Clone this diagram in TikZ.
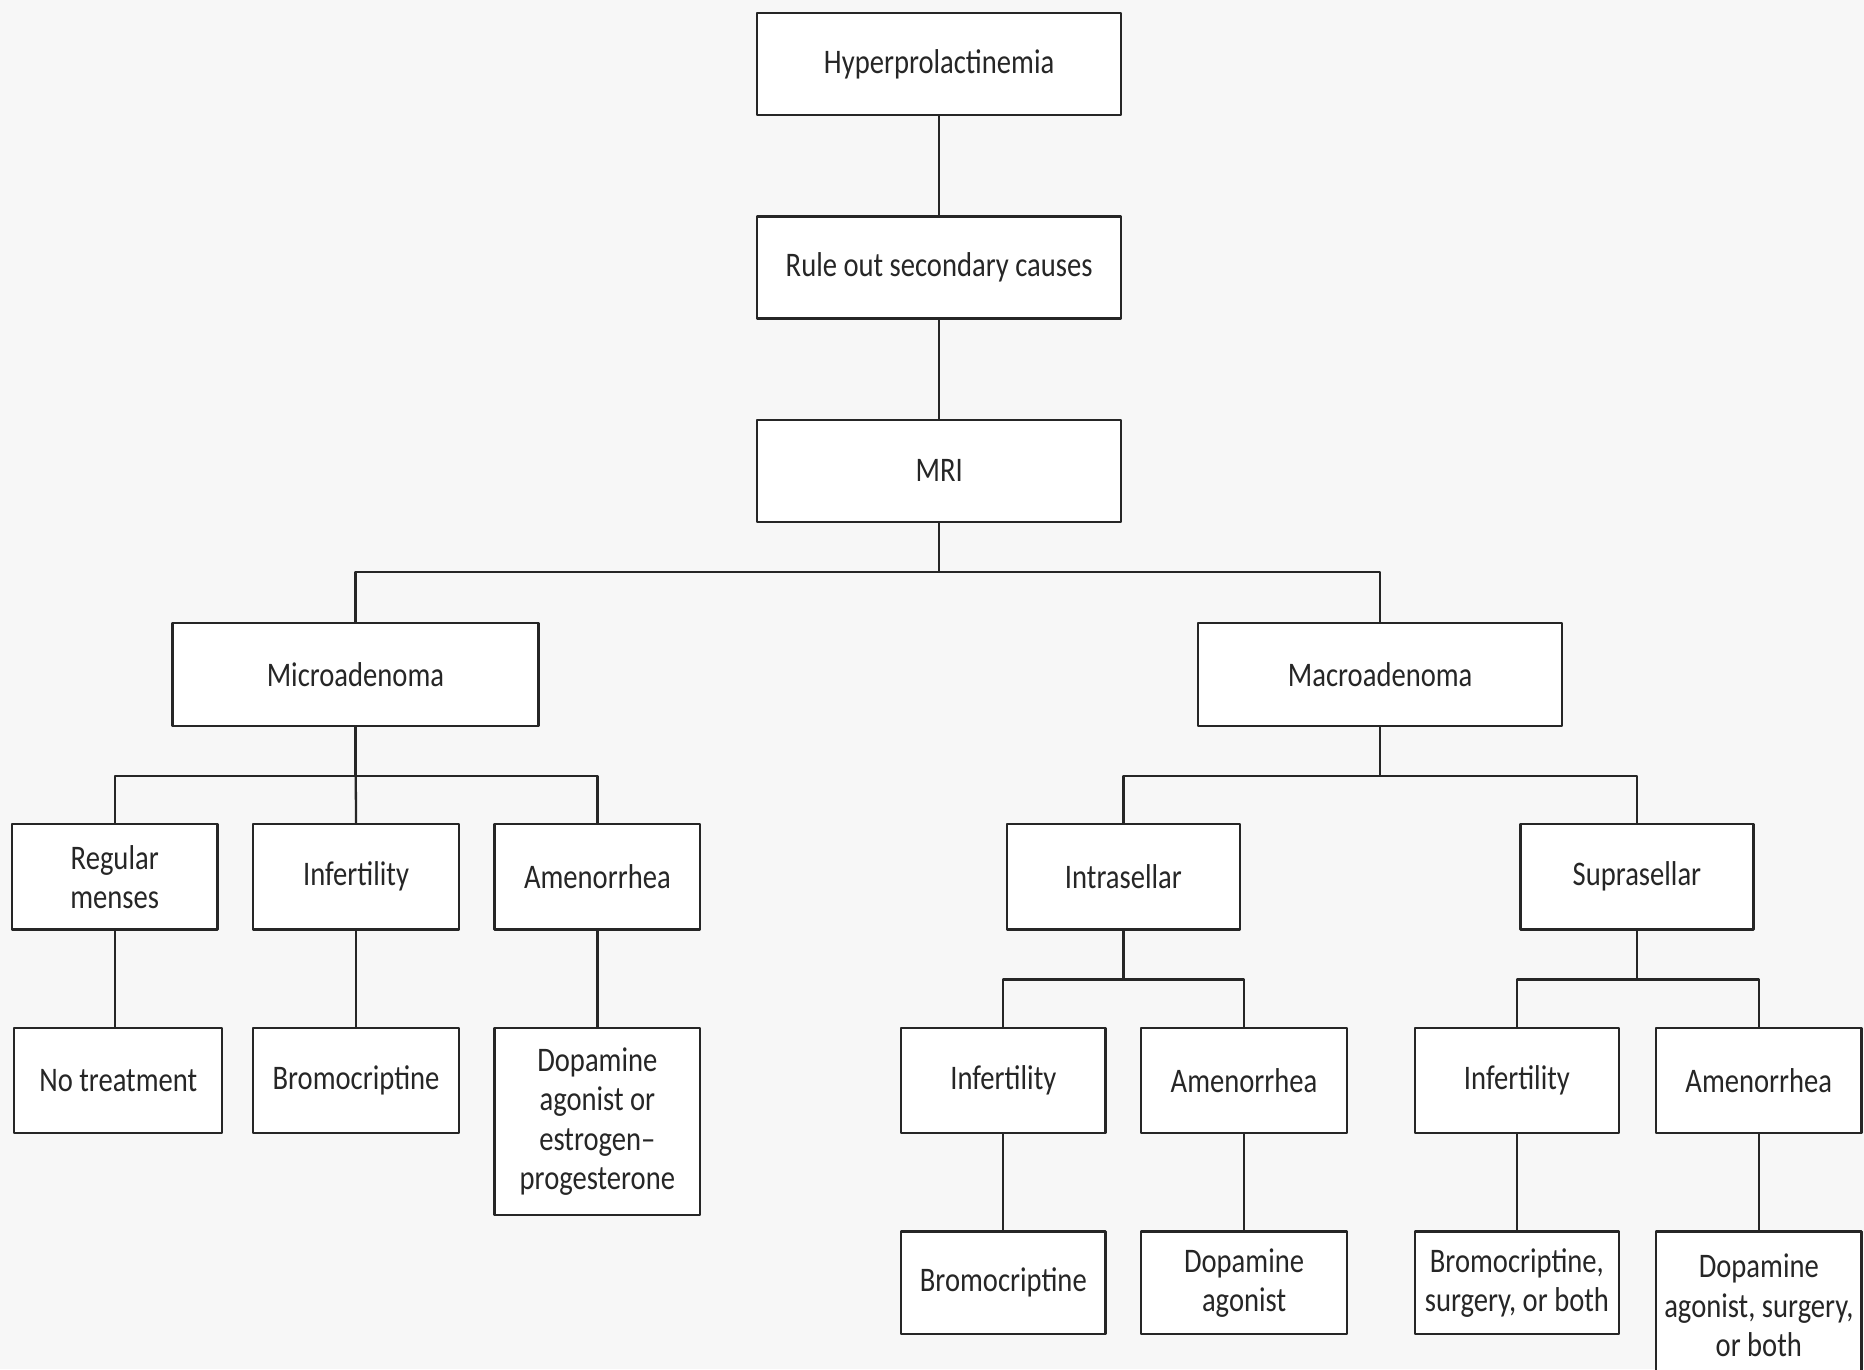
\documentclass[tikz,border=0pt]{standalone}
\usepackage{fontspec}
\setmainfont{Carlito}[FakeStretch=0.83]
\definecolor{pagegray}{HTML}{F7F7F7}
\definecolor{inkgray}{HTML}{262626}

\begin{document}
\begin{tikzpicture}[line cap=round,line join=round,x=0.02cm,y=-0.02cm,
    box/.style={draw=inkgray,line width=1.1pt,fill=white,inner sep=0pt,align=center,
      text=inkgray,font=\fontsize{16.5}{18.7}\selectfont,minimum width=3.46cm,minimum height=1.76cm},
    wide/.style={box,minimum width=6.12cm,minimum height=1.72cm},
    link/.style={draw=inkgray,line width=1.1pt}]
\useasboundingbox (0,0) rectangle (1568,1152);
\clip (0,0) rectangle (1568,1152);
\fill[pagegray] (0,0) rectangle (1568,1152);

% trunk
\node[wide] (hyper) at (790,54) {Hyperprolactinemia};
\node[wide] (rule) at (790,225) {Rule out secondary causes};
\node[wide] (mri) at (790,396) {MRI};
\node[wide,minimum width=6.16cm,minimum height=1.74cm] (micro) at (299,567.5) {Microadenoma};
\node[wide,minimum height=1.74cm] (macro) at (1161,567.5) {Macroadenoma};

% microadenoma branch
\node[box,minimum height=1.78cm] (menses) at (96.5,737.5) {Regular\\menses};
\node[box,minimum height=1.78cm] (inferA) at (299.5,737.5) {Infertility};
\node[box,minimum height=1.78cm] (amenA) at (502.5,737.5) {Amenorrhea};
\node[box,minimum width=3.5cm] (none) at (99.5,909) {No treatment};
\node[box] (bromA) at (299.5,909) {Bromocriptine};
\node[box,minimum height=3.14cm] (dopaA) at (502.5,943.5) {Dopamine\\agonist or\\estrogen--\\progesterone};

% macroadenoma branch
\node[box,minimum width=3.92cm,minimum height=1.78cm] (intra) at (945,737.5) {Intrasellar};
\node[box,minimum width=3.92cm,minimum height=1.78cm] (supra) at (1377,737.5) {Suprasellar};
\node[box,minimum width=3.44cm] (inferB) at (844,909) {Infertility};
\node[box] (amenB) at (1046.5,909) {Amenorrhea};
\node[box,minimum width=3.44cm] (inferC) at (1276,909) {Infertility};
\node[box] (amenC) at (1479.5,909) {Amenorrhea};
\node[box,minimum width=3.44cm,minimum height=1.72cm] (bromB) at (844,1079) {Bromocriptine};
\node[box,minimum height=1.72cm] (dopaB) at (1046.5,1079) {Dopamine\\agonist};
\node[box,minimum width=3.44cm,minimum height=1.72cm] (bromC) at (1276,1079) {Bromocriptine,\\surgery, or both};
\node[box,minimum height=2.48cm] (dopaC) at (1479.5,1098) {Dopamine\\agonist, surgery,\\or both};

% connectors
\draw[link] (hyper) -- (rule);
\draw[link] (rule) -- (mri);
\draw[link] (mri.south) -- ++(0,41) -| (micro.north);
\draw[link] (mri.south) -- ++(0,41) -| (macro.north);
\draw[link] (micro.south) -- ++(0,41) -| (menses.north);
\draw[link] (micro.south) -- ++(0,41) -| (amenA.north);
\draw[link] (micro.south) -- (inferA.north);
\draw[link] (macro.south) -- ++(0,41) -| (intra.north);
\draw[link] (macro.south) -- ++(0,41) -| (supra.north);
\draw[link] (intra.south) -- ++(0,41) -| (inferB.north);
\draw[link] (intra.south) -- ++(0,41) -| (amenB.north);
\draw[link] (supra.south) -- ++(0,41) -| (inferC.north);
\draw[link] (supra.south) -- ++(0,41) -| (amenC.north);
\draw[link] (menses.south) -- (menses.south |- none.north);
\draw[link] (inferA) -- (bromA);
\draw[link] (amenA) -- (dopaA);
\draw[link] (inferB) -- (bromB);
\draw[link] (amenB) -- (dopaB);
\draw[link] (inferC) -- (bromC);
\draw[link] (amenC) -- (dopaC);
\end{tikzpicture}
\end{document}
